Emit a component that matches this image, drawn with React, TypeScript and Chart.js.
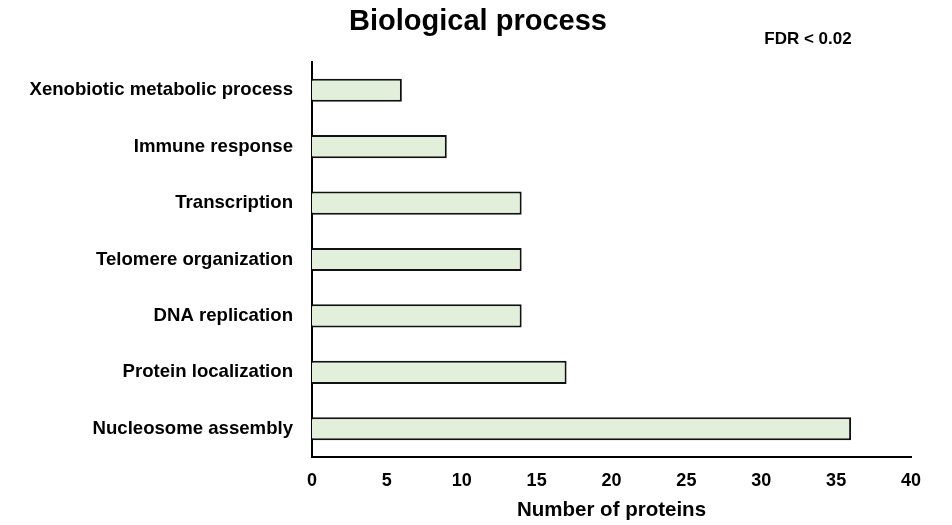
import React, { useEffect, useRef } from "react";
import { Chart, registerables } from "chart.js";

Chart.register(...registerables);

const categories = [
  "Xenobiotic metabolic process",
  "Immune response",
  "Transcription",
  "Telomere organization",
  "DNA replication",
  "Protein localization",
  "Nucleosome assembly",
];
const proteinCounts = [6, 9, 14, 14, 14, 17, 36];
const chartTitle = "Biological process";
const fdrNote = "FDR < 0.02";
const xAxisTitle = "Number of proteins";

const FONT = "Arial, 'Liberation Sans', Helvetica, sans-serif";

export default function App() {
  const ref = useRef<HTMLCanvasElement | null>(null);

  useEffect(() => {
    if (!ref.current) return;
    const textPlugin = {
      id: "texts",
      afterDraw(chart: any) {
        const ctx = chart.ctx;
        ctx.save();
        ctx.fillStyle = "#000";
        ctx.textBaseline = "alphabetic";
        ctx.textAlign = "center";
        ctx.font = `bold 29px ${FONT}`;
        ctx.fillText(chartTitle, 478, 30);
        ctx.font = `bold 17px ${FONT}`;
        ctx.fillText(fdrNote, 808, 44);
        ctx.restore();
      },
    };
    const chart = new Chart(ref.current, {
      type: "bar",
      data: {
        labels: categories,
        datasets: [
          {
            data: proteinCounts,
            backgroundColor: "#e2efda",
            borderColor: "#111",
            borderWidth: 2,
            barPercentage: 0.41,
            categoryPercentage: 1,
          },
        ],
      },
      options: {
        indexAxis: "y",
        animation: false,
        responsive: false,
        maintainAspectRatio: false,
        layout: { padding: { top: 62, right: 41, left: 0, bottom: 0 } },
        plugins: {
          legend: { display: false },
          tooltip: { enabled: false },
          title: { display: false },
        },
        scales: {
          x: {
            min: 0,
            max: 40,
            ticks: {
              stepSize: 5,
              color: "#000",
              padding: 5,
              font: { family: FONT, size: 18, weight: "bold" },
            },
            grid: { display: false },
            border: { display: true, color: "#000", width: 2 },
            title: {
              display: true,
              text: xAxisTitle,
              color: "#000",
              padding: { top: 4, bottom: 2 },
              font: { family: FONT, size: 20.5, weight: "bold" },
            },
            afterFit(scale: any) {
              scale.height = 68;
            },
          },
          y: {
            ticks: {
              color: "#000",
              padding: 11,
              font: { family: FONT, size: 18.6, weight: "bold" },
            },
            grid: { display: false },
            border: { display: true, color: "#000", width: 2 },
            afterFit(scale: any) {
              scale.width = 312;
            },
          },
        },
      },
      plugins: [textPlugin],
    });
    return () => chart.destroy();
  }, []);

  return (
    <div style={{ position: "fixed", left: 0, top: 0, width: 952, height: 525, background: "#fff" }}>
      <canvas ref={ref} width={952} height={525} style={{ width: 952, height: 525 }} />
    </div>
  );
}
